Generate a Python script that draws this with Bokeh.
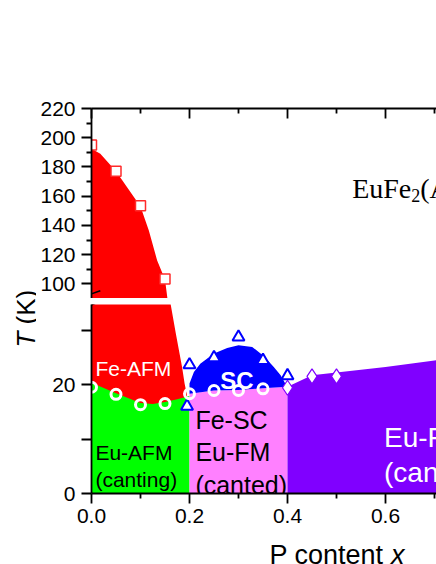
import math
from bokeh.plotting import figure
from bokeh.layouts import row, column
from bokeh.models import Range1d, FixedTicker, PrintfTickFormatter, Arrow, ColumnDataSource
from bokeh.core.properties import value
from bokeh.embed import file_html
from bokeh.resources import INLINE

# ---------------- data ----------------
# Fe-AFM transition boundary (x, T)
fe_afm_x = [0.0, 0.018, 0.05, 0.073, 0.1, 0.117, 0.134, 0.15, 0.155, 0.161, 0.172, 0.185, 0.19, 0.195]
fe_afm_T = [192.5, 189.0, 177.0, 166.0, 153.0, 136.5, 116.0, 103.0, 90.0, 35.0, 29.4, 23.1, 20.2, 18.0]
# Eu-AFM (canting) upper boundary
eu_afm_x = [0.0, 0.05, 0.1, 0.125, 0.15, 0.175, 0.2]
eu_afm_T = [20.3, 18.4, 16.6, 16.4, 16.8, 17.3, 17.9]
# Fe-SC / Eu-FM upper boundary
eu_fm_x = [0.2, 0.25, 0.3, 0.35, 0.4]
eu_fm_T = [18.3, 18.9, 19.0, 19.3, 19.6]
# SC dome outline
sc_x = [0.2, 0.2, 0.209, 0.222, 0.25, 0.277, 0.3, 0.328, 0.352, 0.372, 0.386, 0.396, 0.4]
sc_T = [18.3, 20.2, 22.3, 23.8, 25.7, 26.7, 27.2, 26.9, 25.2, 23.2, 21.7, 20.1, 19.6]
# Eu-FM (canted) upper boundary, x >= 0.4
eu_fm2_x = [0.4, 0.45, 0.5, 0.6, 0.7, 1.0]
eu_fm2_T = [19.6, 21.7, 22.2, 23.2, 24.4, 28.0]

# markers
sq_x = [0.0, 0.05, 0.1, 0.15]
sq_T = [195.0, 177.0, 153.4, 103.3]
circ_x = [0.0, 0.05, 0.1, 0.15, 0.2, 0.25, 0.3, 0.35]
circ_T = [19.5, 18.2, 16.3, 16.5, 18.3, 18.9, 18.9, 19.2]
tri_x = [0.2, 0.195, 0.25, 0.3, 0.35, 0.4]
tri_T = [23.6, 16.0, 24.9, 28.7, 24.4, 21.6]
dia_x = [0.4, 0.45, 0.5]
dia_T = [19.4, 21.5, 21.5]

# ticks
x_major = [0.0, 0.2, 0.4, 0.6, 0.8, 1.0]
x_minor = [0.1, 0.3, 0.5, 0.7, 0.9]
y_top_major = [100, 120, 140, 160, 180, 200, 220]
y_top_minor = [110, 130, 150, 170, 190, 210]
y_bot_major = [0, 20]
y_bot_minor = [10, 30]

RED, GREEN, BLUE, PINK, PURPLE = "#ff0000", "#00ff00", "#0000ff", "#ff80ff", "#8000ff"
SANS = "Liberation Sans"
SERIF = "Liberation Serif"
TICK_FS = "21px"

xr = Range1d(0, 0.7041)


def base_axis(ax):
    ax.axis_line_width = 1.8
    ax.axis_line_color = "black"
    ax.major_tick_line_width = 1.8
    ax.minor_tick_line_width = 1.8
    ax.major_label_text_font = SANS
    ax.major_label_text_font_size = TICK_FS
    ax.major_label_text_color = "black"


# ---------------- top panel (90..220 K) ----------------
top = figure(width=400, height=298, x_range=xr, y_range=Range1d(90, 220),
             x_axis_location="above", output_backend="svg", toolbar_location=None, tools="",
             min_border_left=55, min_border_right=0, min_border_top=108, min_border_bottom=0)
top.outline_line_color = None
top.grid.visible = False
top.background_fill_color = "white"
top.border_fill_color = "white"

xa = top.xaxis[0]
base_axis(xa)
xa.ticker = FixedTicker(ticks=x_major, minor_ticks=x_minor)
xa.major_tick_in = 10
xa.major_tick_out = 0
xa.minor_tick_in = 5
xa.minor_tick_out = 0
xa.major_label_overrides = {t: "" for t in x_major}
xa.major_label_standoff = 0

ya = top.yaxis[0]
base_axis(ya)
ya.ticker = FixedTicker(ticks=y_top_major, minor_ticks=y_top_minor)
ya.major_tick_in = 0
ya.major_tick_out = 10
ya.minor_tick_in = 0
ya.minor_tick_out = 5
ya.major_label_standoff = 6

top.patch([0.0] + fe_afm_x + [fe_afm_x[-1]], [0.0] + fe_afm_T + [0.0],
          fill_color=RED, line_color=None)
top.scatter(sq_x, sq_T, marker="square", size=10, fill_color="white",
            line_color="#ff2a2a", line_width=1.5)

# formula EuFe2(As1-xPx)2 -- only the part inside the visible frame
fx, fT = 0.532, 165.0
sub_T = fT - 7 / 1.4615
big = ColumnDataSource(dict(x=[fx, fx], y=[fT, fT], t=["EuFe", "(As"], xo=[0, 68.1]))
top.text(x="x", y="y", text="t", x_offset="xo", source=big, text_font=value(SERIF),
         text_font_size=value("28px"), text_color="black", text_align="left",
         text_baseline="alphabetic")
top.text(x=[fx], y=[sub_T], text=["2"], x_offset=59.1, text_font=value(SERIF),
         text_font_size=value("18px"), text_color="black", text_align="left",
         text_baseline="alphabetic")

top.add_layout(Arrow(end=None, x_start=-0.018, y_start=91.0, x_end=0.018, y_end=95.3,
                     line_width=1.5, line_color="black"))

# ---------------- bottom panel (0..35 K) ----------------
bot = figure(width=400, height=236, x_range=xr, y_range=Range1d(0, 34.68),
             output_backend="svg", toolbar_location=None, tools="",
             min_border_left=55, min_border_right=0, min_border_top=6, min_border_bottom=41)
bot.outline_line_color = None
bot.grid.visible = False
bot.background_fill_color = "white"
bot.border_fill_color = "white"

bx = bot.xaxis[0]
base_axis(bx)
bx.ticker = FixedTicker(ticks=x_major, minor_ticks=x_minor)
bx.formatter = PrintfTickFormatter(format="%.1f")
bx.major_tick_in = 0
bx.major_tick_out = 10
bx.minor_tick_in = 0
bx.minor_tick_out = 5
bx.major_label_standoff = 5

by = bot.yaxis[0]
base_axis(by)
by.ticker = FixedTicker(ticks=y_bot_major, minor_ticks=y_bot_minor)
by.major_tick_in = 0
by.major_tick_out = 10
by.minor_tick_in = 0
by.minor_tick_out = 10
by.major_label_standoff = 6

# phase regions
bot.patch([0.0] + fe_afm_x + [fe_afm_x[-1]], [0.0] + fe_afm_T + [0.0],
          fill_color=RED, line_color=None)
bot.patch([0.0] + eu_afm_x + [eu_afm_x[-1]], [0.0] + eu_afm_T + [0.0],
          fill_color=GREEN, line_color=None)
bot.patch([eu_fm_x[0]] + eu_fm_x + [eu_fm_x[-1]], [0.0] + eu_fm_T + [0.0],
          fill_color=PINK, line_color=None)
bot.patch(sc_x + eu_fm_x[::-1], sc_T + eu_fm_T[::-1], fill_color=BLUE, line_color=None)
bot.patch([eu_fm2_x[0]] + eu_fm2_x + [eu_fm2_x[-1]], [0.0] + eu_fm2_T + [0.0],
          fill_color=PURPLE, line_color=None)

# markers
bot.scatter(tri_x, tri_T, marker="triangle", size=12, fill_color="white",
            line_color=BLUE, line_width=2)
bot.scatter(circ_x, circ_T, marker="circle", size=10, fill_color=None,
            line_color="white", line_width=3)
bot.scatter(dia_x, dia_T, marker="diamond", size=15, fill_color="white",
            line_color=PURPLE, line_width=1.2)

# region labels
def labels(xs, ys, ts, size, color, style="normal", align="left"):
    bot.text(x=xs, y=ys, text=ts, text_font=value(SANS), text_font_size=value(size),
             text_font_style=style, text_color=color, text_align=align,
             text_baseline="alphabetic")

labels([0.008], [22.9], ["Fe-AFM"], "21px", "white")
labels([0.297], [20.7], ["SC"], "24px", "white", style="bold", align="center")
labels([0.008, 0.008], [7.6, 2.65], ["Eu-AFM", "(canting)"], "21px", "black")
labels([0.212, 0.212, 0.212], [13.5, 7.6, 1.6], ["Fe-SC", "Eu-FM", "(canted)"], "25px", "black")
labels([0.597, 0.597], [10.3, 3.85], ["Eu-FM", "(canted)"], "28px", "white")

bot.add_layout(Arrow(end=None, x_start=-0.018, y_start=33.9, x_end=0.018, y_end=35.3,
                     line_width=1.5, line_color="black"))

# ---------------- x-axis title strip (frame aligned with the plot frames) ----------------
xlab = figure(width=400, height=30, x_range=xr, y_range=Range1d(0, 30),
              x_axis_type=None, y_axis_type=None, output_backend="svg",
              toolbar_location=None, tools="", min_border_left=55, min_border_right=0,
              min_border_top=0, min_border_bottom=0)
xlab.outline_line_color = None
xlab.text(x=[0.3633], y=[10], text=["P content"], text_font=value(SANS),
          text_font_size=value("27px"), text_color="black",
          text_align="left", text_baseline="alphabetic")
xlab.text(x=[0.6112], y=[10], text=["x"], text_font=value(SANS),
          text_font_size=value("27px"), text_font_style="italic", text_color="black",
          text_align="left", text_baseline="alphabetic")

# ---------------- y-axis title ----------------
ylab = figure(width=36, height=564, x_range=Range1d(0, 36), y_range=Range1d(0, 564),
              x_axis_type=None, y_axis_type=None, output_backend="svg",
              toolbar_location=None, tools="", min_border=0)
ylab.outline_line_color = None
ylab.text(x=[25], y=[217], text=["T"], angle=math.pi / 2, text_font=value(SANS),
          text_font_size=value("26px"), text_font_style="italic", text_color="black",
          text_align="left", text_baseline="alphabetic")
ylab.text(x=[25], y=[240.1], text=["(K)"], angle=math.pi / 2, text_font=value(SANS),
          text_font_size=value("26px"), text_color="black",
          text_align="left", text_baseline="alphabetic")

layout = row(ylab, column(top, bot, xlab))

with open("out.html", "w") as f:
    f.write(file_html(layout, INLINE))
